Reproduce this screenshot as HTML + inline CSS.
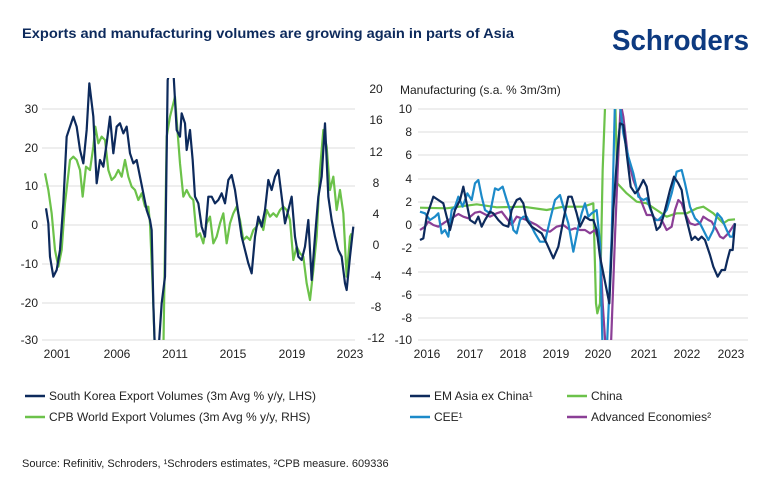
<!DOCTYPE html>
<html><head><meta charset="utf-8"><style>
body{margin:0;background:#fff;width:770px;height:492px;overflow:hidden;font-family:"Liberation Sans",sans-serif;}
svg{position:absolute;left:0;top:0}
</style></head><body>
<svg width="770" height="492" viewBox="0 0 770 492" xmlns="http://www.w3.org/2000/svg" font-family="Liberation Sans, sans-serif">
<text x="22" y="38" font-size="14" font-weight="bold" fill="#0d2a5c" textLength="492" lengthAdjust="spacingAndGlyphs">Exports and manufacturing volumes are growing again in parts of Asia</text>
<text x="612" y="50" font-size="29" font-weight="bold" fill="#0d3a80" textLength="137" lengthAdjust="spacingAndGlyphs">Schroders</text>
<defs>
<clipPath id="c1"><rect x="40" y="78" width="318" height="262"/></clipPath>
<clipPath id="c2"><rect x="415" y="109" width="336" height="231"/></clipPath>
</defs>
<g stroke="#dcdcdc" stroke-width="1">
<line x1="42" x2="355" y1="109" y2="109"/><line x1="42" x2="355" y1="148" y2="148"/><line x1="42" x2="355" y1="186" y2="186"/><line x1="42" x2="355" y1="225" y2="225"/><line x1="42" x2="355" y1="264" y2="264"/><line x1="42" x2="355" y1="303" y2="303"/><line x1="42" x2="355" y1="340" y2="340"/>
<line x1="418" x2="748" y1="109" y2="109"/><line x1="418" x2="748" y1="132" y2="132"/><line x1="418" x2="748" y1="155" y2="155"/><line x1="418" x2="748" y1="179" y2="179"/><line x1="418" x2="748" y1="202" y2="202"/><line x1="418" x2="748" y1="225" y2="225"/><line x1="418" x2="748" y1="248" y2="248"/><line x1="418" x2="748" y1="272" y2="272"/><line x1="418" x2="748" y1="295" y2="295"/><line x1="418" x2="748" y1="318" y2="318"/><line x1="418" x2="748" y1="340" y2="340"/>
</g>
<g font-size="12" fill="#222" text-anchor="end">
<text x="38" y="113">30</text><text x="38" y="152">20</text><text x="38" y="190">10</text><text x="38" y="229">0</text><text x="38" y="268">-10</text><text x="38" y="307">-20</text><text x="38" y="344">-30</text>
<text x="412" y="113">10</text><text x="412" y="136">8</text><text x="412" y="159">6</text><text x="412" y="183">4</text><text x="412" y="206">2</text><text x="412" y="229">0</text><text x="412" y="252">-2</text><text x="412" y="276">-4</text><text x="412" y="299">-6</text><text x="412" y="322">-8</text><text x="412" y="344">-10</text>
</g>
<g font-size="12" fill="#222" text-anchor="middle">
<text x="376" y="93">20</text><text x="376" y="124">16</text><text x="376" y="156">12</text><text x="376" y="187">8</text><text x="376" y="218">4</text><text x="376" y="249">0</text><text x="376" y="280">-4</text><text x="376" y="311">-8</text><text x="376" y="342">-12</text>
<text x="57" y="358">2001</text><text x="117" y="358">2006</text><text x="175" y="358">2011</text><text x="233" y="358">2015</text><text x="292" y="358">2019</text><text x="350" y="358">2023</text>
<text x="427" y="358">2016</text><text x="470" y="358">2017</text><text x="513" y="358">2018</text><text x="556" y="358">2019</text><text x="598" y="358">2020</text><text x="644" y="358">2021</text><text x="687" y="358">2022</text><text x="731" y="358">2023</text>
</g>
<text x="400" y="94" font-size="12" fill="#222">Manufacturing (s.a. % 3m/3m)</text>
<g clip-path="url(#c1)" fill="none" stroke-width="2.2" stroke-linejoin="round">
<g transform="translate(0,70) scale(0.33333)">
<polyline vector-effect="non-scaling-stroke" stroke="#6cc24a" points="135,310 145,360 155,430 165,540 175,590 185,540 195,400 210,270 220,260 230,270 240,300 248,380 258,290 270,300 280,230 286,170 295,220 305,200 315,210 325,300 335,330 345,320 355,300 365,320 375,270 385,320 395,350 405,360 415,390 425,370 435,410 445,410 450,460 458,650 465,850 490,850 500,200 510,140 520,100 525,80 530,150 540,280 550,380 560,360 570,380 580,390 590,500 600,490 610,520 620,460 630,440 640,520 650,500 660,460 670,430 680,520 690,460 700,430 710,410 720,450 730,510 740,500 750,510 760,480 770,470 780,450 790,480 800,420 810,440 820,430 830,440 840,420 850,410 860,420 870,450 880,570 890,530 900,550 910,560 920,640 930,690 940,600 950,500 960,300 970,180 980,230 990,360 1000,320 1010,420 1020,360 1030,430 1040,620 1050,500 1055,490"/>
<polyline vector-effect="non-scaling-stroke" stroke="#0d2a5c" points="138,415 145,460 150,560 160,620 170,600 180,540 190,400 200,200 210,170 220,140 230,170 240,240 250,280 260,180 268,40 280,140 290,340 300,270 310,290 320,220 330,140 340,250 350,170 360,160 370,190 380,170 390,250 400,280 410,270 420,320 430,370 440,420 450,450 455,480 460,700 465,850 475,850 485,700 495,620 503,30 510,0 520,0 530,180 540,200 545,130 555,160 560,240 570,180 578,270 585,380 595,400 605,470 615,500 625,380 635,380 645,400 655,390 665,370 675,400 685,330 695,315 705,360 715,430 725,500 735,540 745,580 755,610 765,500 775,440 785,470 795,420 805,330 815,360 825,320 835,300 845,380 855,460 865,420 875,380 885,500 895,560 905,570 915,530 925,450 935,630 945,500 955,380 965,320 975,160 985,380 995,450 1005,500 1015,540 1025,560 1035,640 1040,660 1050,560 1060,470"/>
</g></g>
<g clip-path="url(#c2)" fill="none" stroke-width="2.2" stroke-linejoin="round">
<g transform="translate(380,70) scale(0.33333)">
<polyline vector-effect="non-scaling-stroke" stroke="#6cc24a" points="120,413 200,415 290,403 350,412 430,410 500,420 550,410 610,410 640,400 648,700 652,730 660,700 668,300 677,60 705,60 712,340 740,370 770,395 800,400 830,420 860,440 890,430 920,430 950,415 970,410 1000,430 1030,460 1045,450 1065,448"/>
<polyline vector-effect="non-scaling-stroke" stroke="#8b3f96" points="120,480 135,470 145,455 160,465 175,470 190,460 205,450 215,445 235,432 250,440 265,445 285,428 300,425 315,433 330,440 350,430 365,425 380,445 395,465 410,440 425,445 440,450 460,460 470,465 490,480 510,485 530,470 550,465 570,480 585,475 600,480 615,480 630,490 645,480 660,520 668,700 678,850 692,850 705,500 713,300 722,100 730,140 745,270 760,330 775,370 790,410 800,435 815,435 830,450 845,450 860,480 875,470 885,420 895,390 905,400 915,430 930,460 945,465 960,460 970,440 985,450 995,455 1010,480 1020,500 1030,505 1045,490 1065,460"/>
<polyline vector-effect="non-scaling-stroke" stroke="#1c8ac9" points="120,425 135,430 150,450 165,440 175,430 185,490 195,480 205,500 215,420 225,410 235,380 248,410 262,370 275,390 285,340 295,330 305,380 315,420 330,430 345,355 355,360 368,350 380,390 390,420 400,480 410,490 420,450 430,440 440,440 450,460 465,490 480,515 495,515 510,450 525,390 540,375 550,410 565,460 580,545 595,470 605,430 615,400 625,440 635,430 650,420 660,520 668,850 680,850 695,500 705,90 718,90 730,190 745,260 760,310 775,380 790,390 800,385 812,420 825,450 835,450 845,440 860,420 875,370 890,305 905,300 915,340 930,410 945,445 960,460 970,480 985,510 1000,480 1012,430 1025,445 1040,480 1050,500 1058,500 1065,460"/>
<polyline vector-effect="non-scaling-stroke" stroke="#0d2a5c" points="120,510 130,505 140,440 160,380 175,390 190,400 200,440 210,480 225,420 240,390 250,350 260,400 270,450 285,460 295,440 305,470 315,450 330,425 340,430 355,450 370,465 385,470 395,420 410,390 420,385 430,400 440,450 455,470 470,480 485,490 500,520 520,565 535,530 550,450 565,380 575,380 590,430 600,470 615,440 630,450 640,450 650,480 660,560 672,620 688,700 700,420 712,250 720,160 730,165 740,250 752,350 765,370 775,360 790,330 800,350 810,410 820,440 830,480 840,470 850,440 860,400 870,360 882,320 895,340 905,360 915,430 925,470 935,510 945,500 955,510 965,500 975,510 990,555 1000,590 1013,620 1025,600 1035,600 1042,570 1050,540 1058,540 1065,460"/>
</g></g>
<g font-size="12" fill="#222">
<line x1="25" x2="45" y1="396" y2="396" stroke="#0d2a5c" stroke-width="2.5"/><text x="49" y="400">South Korea Export Volumes (3m Avg % y/y, LHS)</text>
<line x1="25" x2="45" y1="417" y2="417" stroke="#6cc24a" stroke-width="2.5"/><text x="49" y="421">CPB World Export Volumes (3m Avg % y/y, RHS)</text>
<line x1="410" x2="430" y1="396" y2="396" stroke="#0d2a5c" stroke-width="2.5"/><text x="434" y="400">EM Asia ex China¹</text>
<line x1="410" x2="430" y1="417" y2="417" stroke="#1c8ac9" stroke-width="2.5"/><text x="434" y="421">CEE¹</text>
<line x1="567" x2="587" y1="396" y2="396" stroke="#6cc24a" stroke-width="2.5"/><text x="591" y="400">China</text>
<line x1="567" x2="587" y1="417" y2="417" stroke="#8b3f96" stroke-width="2.5"/><text x="591" y="421">Advanced Economies²</text>
<text x="22" y="467" font-size="11">Source: Refinitiv, Schroders, ¹Schroders estimates, ²CPB measure. 609336</text>
</g>
</svg>
</body></html>
